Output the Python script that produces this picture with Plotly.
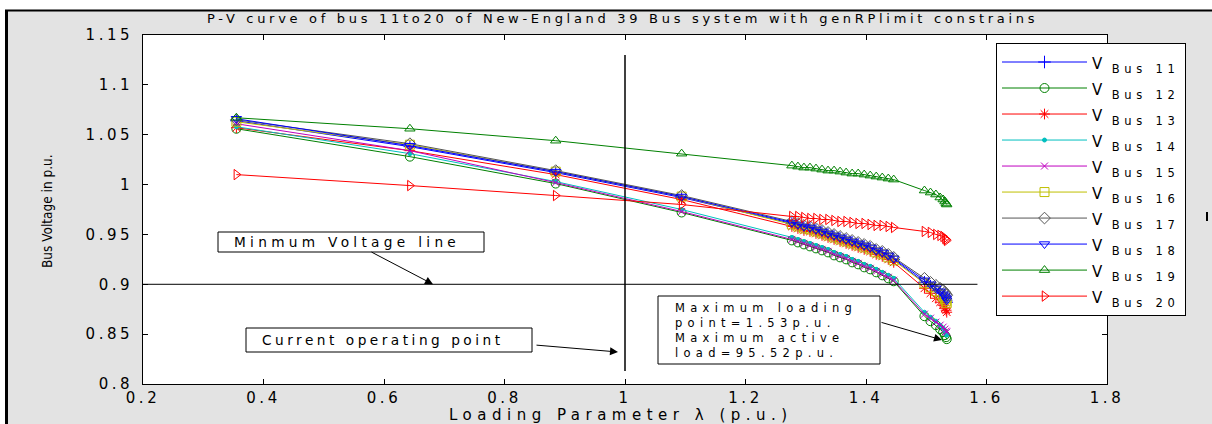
import plotly.graph_objects as go

# ---------------- data ----------------
lam = [0.355, 0.643, 0.885, 1.094, 1.277, 1.287, 1.297, 1.307, 1.317, 1.327,
       1.337, 1.347, 1.357, 1.367, 1.377, 1.387, 1.397, 1.407, 1.417, 1.427,
       1.437, 1.446, 1.497, 1.507, 1.516, 1.523, 1.528, 1.531, 1.533, 1.534]

bus11 = [1.064, 1.038, 1.012, 0.987,
         0.961, 0.959, 0.957, 0.956, 0.954, 0.952, 0.950, 0.948, 0.946, 0.944,
         0.942, 0.940, 0.938, 0.936, 0.933, 0.931, 0.928, 0.925,
         0.902, 0.898, 0.894, 0.891, 0.888, 0.886, 0.884, 0.882]
bus12 = [1.056, 1.028, 1.001, 0.972,
         0.944, 0.942, 0.940, 0.938, 0.936, 0.934, 0.932, 0.929, 0.927, 0.925,
         0.922, 0.920, 0.917, 0.915, 0.912, 0.909, 0.906, 0.903,
         0.868, 0.863, 0.859, 0.855, 0.852, 0.849, 0.847, 0.845]
bus13 = [1.057, 1.034, 1.010, 0.985,
         0.958, 0.956, 0.954, 0.953, 0.951, 0.949, 0.947, 0.945, 0.943, 0.941,
         0.939, 0.937, 0.935, 0.933, 0.930, 0.928, 0.925, 0.922,
         0.896, 0.891, 0.886, 0.882, 0.879, 0.876, 0.874, 0.872]
bus14 = [1.058, 1.031, 1.003, 0.975,
         0.947, 0.945, 0.943, 0.941, 0.939, 0.937, 0.935, 0.932, 0.930, 0.928,
         0.925, 0.923, 0.920, 0.918, 0.915, 0.912, 0.909, 0.906,
         0.872, 0.867, 0.863, 0.859, 0.856, 0.853, 0.851, 0.849]
bus15 = [1.061, 1.034, 1.002, 0.973,
         0.945, 0.943, 0.941, 0.939, 0.937, 0.935, 0.933, 0.930, 0.928, 0.926,
         0.923, 0.921, 0.918, 0.916, 0.913, 0.910, 0.907, 0.904,
         0.870, 0.866, 0.862, 0.859, 0.857, 0.855, 0.853, 0.852]
bus16 = [1.063, 1.040, 1.013, 0.988,
         0.960, 0.958, 0.956, 0.955, 0.953, 0.951, 0.949, 0.947, 0.945, 0.943,
         0.941, 0.939, 0.937, 0.935, 0.932, 0.930, 0.927, 0.924,
         0.901, 0.897, 0.893, 0.890, 0.887, 0.885, 0.883, 0.881]
bus17 = [1.065, 1.041, 1.014, 0.989,
         0.963, 0.961, 0.959, 0.958, 0.956, 0.954, 0.952, 0.950, 0.948, 0.946,
         0.944, 0.942, 0.940, 0.938, 0.935, 0.933, 0.930, 0.927,
         0.906, 0.902, 0.899, 0.896, 0.894, 0.892, 0.890, 0.889]
bus18 = [1.066, 1.039, 1.013, 0.988,
         0.962, 0.960, 0.958, 0.957, 0.955, 0.953, 0.951, 0.949, 0.947, 0.945,
         0.943, 0.941, 0.939, 0.937, 0.934, 0.932, 0.929, 0.926,
         0.904, 0.900, 0.896, 0.893, 0.890, 0.888, 0.886, 0.884]
bus19 = [1.067, 1.056, 1.044, 1.031,
         1.019, 1.018, 1.017, 1.017, 1.016, 1.015, 1.014, 1.014, 1.013, 1.012,
         1.011, 1.011, 1.010, 1.009, 1.008, 1.007, 1.006, 1.005,
         0.994, 0.992, 0.990, 0.987, 0.985, 0.983, 0.981, 0.980]
bus20 = [1.010, 0.999, 0.989, 0.980,
         0.968, 0.968, 0.967, 0.966, 0.966, 0.965, 0.965, 0.964, 0.963, 0.963,
         0.962, 0.961, 0.961, 0.960, 0.959, 0.959, 0.958, 0.957,
         0.953, 0.952, 0.950, 0.949, 0.948, 0.946, 0.945, 0.944]

series_names = ["Bus 11", "Bus 12", "Bus 13", "Bus 14", "Bus 15",
                "Bus 16", "Bus 17", "Bus 18", "Bus 19", "Bus 20"]
series_values = [bus11, bus12, bus13, bus14, bus15, bus16, bus17, bus18, bus19, bus20]
series_colors = ["#0000ff", "#008000", "#ff0000", "#00bfbf", "#bf00bf",
                 "#bfbf00", "#555555", "#0000ff", "#008000", "#ff0000"]
series_symbols = ["cross-thin-open", "circle-open", "asterisk-open", "circle",
                  "x-thin-open", "square-open", "diamond-open",
                  "triangle-down-open", "triangle-up-open", "triangle-right-open"]
series_msize = [9, 9, 9, 4, 7, 9, 9, 9, 9, 9]

x_ticks = [0.2, 0.4, 0.6, 0.8, 1.0, 1.2, 1.4, 1.6, 1.8]
x_ticktext = ["0.2", "0.4", "0.6", "0.8", "1", "1.2", "1.4", "1.6", "1.8"]
y_ticks = [0.8, 0.85, 0.9, 0.95, 1.0, 1.05, 1.1, 1.15]
y_ticktext = ["0.8", "0.85", "0.9", "0.95", "1", "1.05", "1.1", "1.15"]

min_voltage = 0.9
operating_point = 1.0

FONT = "DejaVu Sans, Liberation Sans, sans-serif"
NARROW = "Liberation Sans Narrow, DejaVu Sans Condensed, sans-serif"


def sp(text, spacing, size=None):
    style = "letter-spacing:%spx" % spacing
    if size is not None:
        style += ";font-size:%spx" % size
    return "<span style='%s'>%s</span>" % (style, text)


# pixel helpers (plot area: x 143..1107, y 35..384)
L, R, T, B = 143, 1107, 35, 384


def px2x(px):
    return (px - L) / (R - L)


def py2y(py):
    return (B - py) / (B - T)


def dx(px):
    return 0.2 + (px - L) / (R - L) * 1.6


def dy(py):
    return 0.8 + (B - py) / (B - T) * 0.35


fig = go.Figure()
for name, vals, col, sym, ms in zip(series_names, series_values, series_colors,
                                    series_symbols, series_msize):
    fig.add_trace(go.Scatter(
        x=lam, y=vals, mode="lines+markers",
        name=sp("V", 9.5, 15) + "<sub>" + sp(name, 4.7, 11.5) + "</sub>",
        line=dict(color=col, width=1),
        marker=dict(symbol=sym, size=ms, color=col,
                    line=dict(color=col, width=1)),
    ))

# reference lines
fig.add_trace(go.Scatter(x=[0.2, 1.585], y=[min_voltage, min_voltage], mode="lines",
                         line=dict(color="black", width=1), showlegend=False,
                         hoverinfo="skip"))
fig.add_trace(go.Scatter(x=[operating_point, operating_point], y=[0.813, 1.13], mode="lines",
                         line=dict(color="black", width=1.5), showlegend=False,
                         hoverinfo="skip"))

shapes = []
annots = []

# text boxes (rect + text)
boxes = [
    # (left px, right px, top px, bottom px, text-left px, text, size, spacing)
    (218, 484, 232, 252, 232, ["Minmum Voltage line"], 13.7, 4.3),
    (246, 532, 328, 352, 260, ["Current operating point"], 13.7, 3.5),
    (658, 880, 296, 364, 673, ["Maximum loading", "point=1.53p.u.",
                               "Maximum active", "load=95.52p.u."], 11.5, 5.3),
]
for l, r, t, b, tl, lines, fs, ls in boxes:
    shapes.append(dict(type="rect", xref="x", yref="y", x0=dx(l), x1=dx(r),
                       y0=dy(b), y1=dy(t), fillcolor="white",
                       line=dict(color="black", width=1), layer="above"))
    annots.append(dict(x=dx(tl), y=dy((t + b) / 2), xref="x", yref="y",
                       xanchor="left", yanchor="middle", showarrow=False,
                       align="left",
                       text="<br>".join(sp(s, ls) for s in lines),
                       font=dict(family=FONT, size=fs, color="black")))

# arrows
annots.append(dict(x=dx(433), y=min_voltage, xref="x", yref="y", text="", showarrow=True,
                   ax=-63, ay=-33, arrowhead=2, arrowsize=1.6, arrowwidth=1, arrowcolor="black"))
annots.append(dict(x=dx(618), y=dy(352), xref="x", yref="y", text="", showarrow=True,
                   ax=-83, ay=-7, arrowhead=2, arrowsize=1.6, arrowwidth=1, arrowcolor="black"))
annots.append(dict(x=dx(942), y=dy(340), xref="x", yref="y", text="", showarrow=True,
                   ax=-62, ay=-18, arrowhead=2, arrowsize=1.6, arrowwidth=1, arrowcolor="black"))

# title
annots.append(dict(x=px2x(622), y=py2y(18), xref="paper", yref="paper", showarrow=False,
                   text=sp("P-V curve of bus 11to20 of New-England 39 Bus system with genRPlimit constrains", 3.7),
                   font=dict(family=FONT, size=13, color="black"),
                   xanchor="center", yanchor="middle"))
# axis titles
annots.append(dict(x=px2x(621), y=py2y(415), xref="paper", yref="paper", showarrow=False,
                   text=sp("Loading Parameter λ (p.u.)", 5.5),
                   font=dict(family=FONT, size=15, color="black"),
                   xanchor="center", yanchor="middle"))
annots.append(dict(x=px2x(47), y=py2y(211), xref="paper", yref="paper", showarrow=False,
                   text="Bus Voltage in p.u.", textangle=-90,
                   font=dict(family=NARROW, size=13.5, color="black"),
                   xanchor="center", yanchor="middle"))

# frame of the screenshot
shapes += [
    dict(type="rect", xref="paper", yref="paper", x0=px2x(0), x1=px2x(1212),
         y0=py2y(10), y1=py2y(0), fillcolor="white", line=dict(width=0), layer="below"),
    dict(type="rect", xref="paper", yref="paper", x0=px2x(0), x1=px2x(5),
         y0=py2y(424), y1=py2y(0), fillcolor="white", line=dict(width=0), layer="below"),
    dict(type="line", xref="paper", yref="paper", x0=px2x(5), x1=px2x(1212),
         y0=py2y(10.5), y1=py2y(10.5), line=dict(color="black", width=2)),
    dict(type="line", xref="paper", yref="paper", x0=px2x(6.5), x1=px2x(6.5),
         y0=py2y(10), y1=py2y(424), line=dict(color="black", width=3)),
    dict(type="line", xref="paper", yref="paper", x0=px2x(1207), x1=px2x(1207),
         y0=py2y(212), y1=py2y(221), line=dict(color="black", width=2)),
]

fig.update_layout(
    width=1212, height=424,
    margin=dict(l=L, r=1212 - R, t=T, b=424 - B, autoexpand=False),
    paper_bgcolor="#e3e3e3", plot_bgcolor="white",
    font=dict(family=FONT, size=15, color="black"),
    annotations=annots, shapes=shapes,
    legend=dict(x=px2x(996), y=py2y(43), xanchor="left", yanchor="top",
                bgcolor="white", bordercolor="black", borderwidth=1,
                font=dict(family=FONT, size=17.7, color="black"),
                itemwidth=85, tracegroupgap=0),
    showlegend=True,
)
fig.update_xaxes(range=[0.2, 1.8], tickvals=x_ticks,
                 ticktext=[sp(t, 3.5) for t in x_ticktext],
                 ticks="inside", ticklen=5, tickcolor="black", showgrid=False,
                 zeroline=False, showline=True, linecolor="black", linewidth=1,
                 mirror="ticks", tickfont=dict(size=15), automargin=False,
                 ticklabelstandoff=0)
fig.update_yaxes(range=[0.8, 1.15], tickvals=y_ticks,
                 ticktext=[sp(t, 3.5) for t in y_ticktext],
                 ticks="inside", ticklen=5, tickcolor="black", showgrid=False,
                 zeroline=False, showline=True, linecolor="black", linewidth=1,
                 mirror="ticks", tickfont=dict(size=15), automargin=False,
                 ticklabelstandoff=6)

fig.write_html("out.html")
